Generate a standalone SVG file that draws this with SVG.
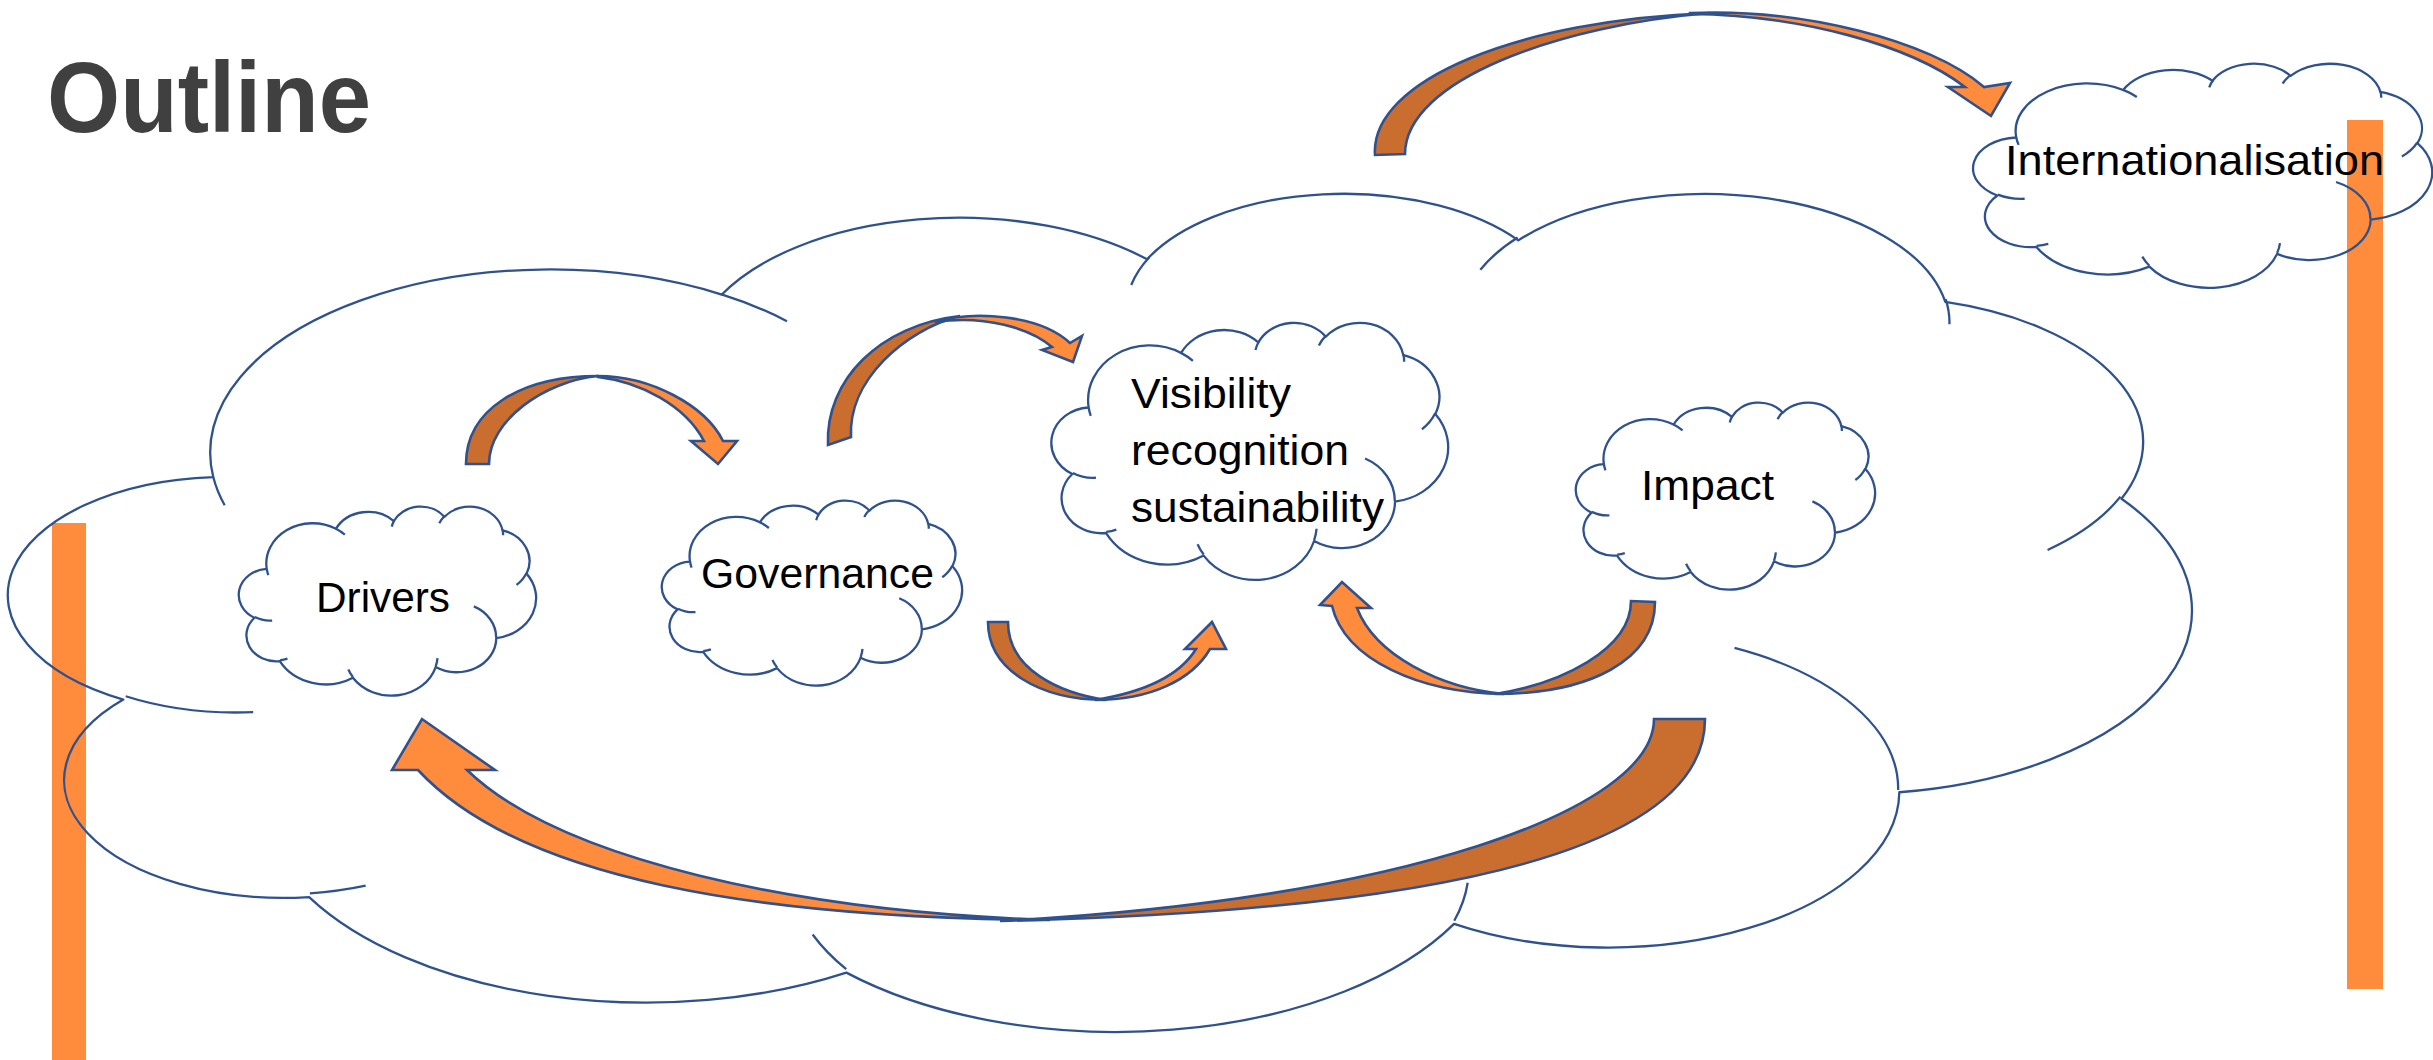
<svg xmlns="http://www.w3.org/2000/svg" xmlns:xlink="http://www.w3.org/1999/xlink" width="2433" height="1060" viewBox="0 0 2433 1060">
<style>
.cl{fill:none;stroke:#2F528F;stroke-width:2.3;vector-effect:non-scaling-stroke;stroke-linejoin:round}
.bar{fill:#FF8B3D}
.ar{stroke:#2F528F;stroke-width:2.6;stroke-linejoin:miter}
.dk{fill:#CA6E30}
.lt{fill:#FF8B3D}
.lbl{font-family:"Liberation Sans",Arial,sans-serif;font-size:43px;fill:#000}
.title{font-family:"Liberation Sans",Arial,sans-serif;font-size:100px;font-weight:bold;fill:#404040}
</style>
<defs>
<path id="cloudTicks" class="cl" d="M4693 26177 A4345 5945 0 0 1 2160 25380 M6928 34899 A4360 5918 0 0 1 5820 35280 M16478 39090 A6752 9215 0 0 1 15810 37350 M28827 34751 A6752 9215 0 0 1 28560 36660 M34129 22954 A5785 7867 0 0 1 37381 30090 M41798 15354 A5333 7273 0 0 1 40350 18030 M38324 5426 A4857 6595 0 0 1 38400 6690 M29078 3952 A4857 6595 0 0 1 29820 2340 M22141 4720 A4365 5945 0 0 1 22500 3330 M14000 5192 A6753 9190 0 0 1 15300 6541 M4127 15789 A6753 9190 0 0 1 3900 14370"/>
<g id="cloud">
<path class="cl" d="M3900 14370 A6753 9190 0 0 1 14005 5202 A5333 7267 0 0 1 22456 3431 A4365 5945 0 0 1 29833 2479 A4857 6595 0 0 1 38318 5575 A5333 7273 0 0 1 41818 15459 A6775 9220 0 0 1 37404 30202 A5785 7867 0 0 1 28556 36812 A6752 9215 0 0 1 16480 39263 A7720 10543 0 0 1 5805 35469 A4360 5918 0 0 1 2113 25547 A4345 5945 0 0 1 3900 14370 Z"/>
<use xlink:href="#cloudTicks" href="#cloudTicks"/>
</g>
<g id="cloudBig">
<path class="cl" d="M3900 14370 A6753 9190 0 0 1 14005 5202 A5333 7267 0 0 1 22456 3431 A4365 5945 0 0 1 29833 2479 A4857 6595 0 0 1 38318 5575 A5333 7273 0 0 1 41818 15459 A6775 9220 0 0 1 37404 30202 A5785 7867 0 0 1 28556 36812 A7660 10455 0 0 1 16480 39263 A7720 10543 0 0 1 5805 35469 A4360 5918 0 0 1 2113 25547 A4345 5945 0 0 1 3900 14370 Z"/>
<use xlink:href="#cloudTicks" href="#cloudTicks"/>
</g>
</defs>
<rect width="2433" height="1060" fill="#FFFFFF"/>
<g id="decor">
<rect class="bar" x="52" y="523" width="34" height="537"/>
<rect class="bar" x="2347" y="120" width="36" height="869"/>
<text class="title" x="47" y="132" textLength="324" lengthAdjust="spacingAndGlyphs">Outline</text>
</g>
<g id="big-cloud">
<use xlink:href="#cloudBig" href="#cloudBig" transform="translate(17,191) scale(0.050324,0.019907)"/>
</g>
<g id="drivers">
<use xlink:href="#cloud" href="#cloud" transform="translate(240,506) scale(0.0068519,0.004375)"/>
<text class="lbl" x="316" y="612" textLength="134" lengthAdjust="spacingAndGlyphs">Drivers</text>
</g>
<g id="governance">
<use xlink:href="#cloud" href="#cloud" transform="translate(663,500) scale(0.0069213,0.0042824)"/>
<text class="lbl" x="701" y="588" textLength="233" lengthAdjust="spacingAndGlyphs">Governance</text>
</g>
<g id="visibility">
<use xlink:href="#cloud" href="#cloud" transform="translate(1053,322) scale(0.0091435,0.0059491)"/>
<text class="lbl" x="1131" y="408" textLength="160" lengthAdjust="spacingAndGlyphs">Visibility</text>
<text class="lbl" x="1131" y="465" textLength="218" lengthAdjust="spacingAndGlyphs">recognition</text>
<text class="lbl" x="1131" y="522" textLength="253" lengthAdjust="spacingAndGlyphs">sustainability</text>
</g>
<g id="impact">
<use xlink:href="#cloud" href="#cloud" transform="translate(1577,402) scale(0.0068981,0.0043287)"/>
<text class="lbl" x="1641" y="500" textLength="133" lengthAdjust="spacingAndGlyphs">Impact</text>
</g>
<g id="internationalisation">
<use xlink:href="#cloud" href="#cloud" transform="translate(1975,63) scale(0.010579,0.0051852)"/>
<text class="lbl" x="2005" y="175" textLength="379" lengthAdjust="spacingAndGlyphs">Internationalisation</text>
</g>
<g id="connectors">
<g id="a-drivers-governance">
<path class="ar dk" d="M466,464 C466,410 520,376 598,376 C545,381 489,420 489,464 Z"/>
<path class="ar lt" d="M598,376 C650,376 705,405 723,441 L737,441 L718,464 L691,441 L704,441 C685,405 640,382 598,377 Z"/>
</g>
<g id="a-governance-visibility-top">
<path class="ar dk" d="M828,445 C825,380 880,325 960,316 C905,330 848,380 851,437 Z"/>
<path class="ar lt" d="M935,322 C975,310 1040,315 1070,343 L1082,336 L1073,362 L1042,350 L1052,347 C1030,328 985,315 935,322 Z"/>
</g>
<g id="a-to-internationalisation">
<path class="ar dk" d="M1375,155 C1370,80 1520,20 1710,13 C1560,25 1405,80 1405,154 Z"/>
<path class="ar lt" d="M1690,13 C1800,8 1930,40 1984,87 L2010,83 L1991,116 L1948,87 L1965,87 C1910,45 1800,15 1690,14 Z"/>
</g>
<g id="a-governance-visibility-bottom">
<path class="ar dk" d="M988,622 C988,670 1040,700 1106,700 C1060,693 1008,670 1008,622 Z"/>
<path class="ar lt" d="M1095,700 C1150,700 1192,680 1210,649 L1226,649 L1212,622 L1185,649 L1196,649 C1180,675 1145,692 1095,700 Z"/>
</g>
<g id="a-impact-visibility">
<path class="ar dk" d="M1655,602 C1655,660 1590,694 1495,694 C1560,684 1631,650 1631,601 Z"/>
<path class="ar lt" d="M1332,606 C1345,660 1420,693 1504,694 C1440,688 1375,655 1357,608 L1371,608 L1342,582 L1320,605 Z"/>
</g>
<g id="a-impact-drivers">
<path class="ar dk" d="M1705,719 C1705,840 1480,910 1000,921 C1400,900 1654,810 1654,719 Z"/>
<path class="ar lt" d="M418,770 C520,880 760,918 1050,920 C800,912 560,860 467,770 L495,770 L422,719 L392,770 Z"/>
</g>
</g>
</svg>
